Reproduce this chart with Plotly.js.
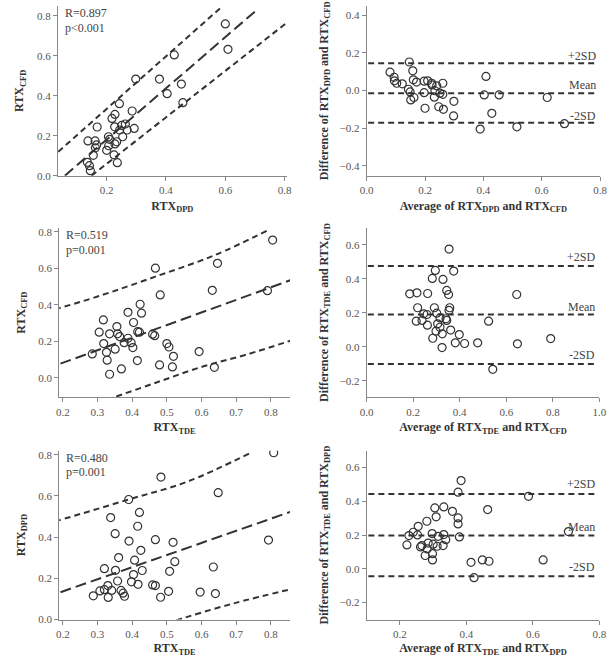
<!DOCTYPE html>
<html><head><meta charset="utf-8">
<script src="https://cdn.plot.ly/plotly-3.0.1.min.js"></script>
<style>body{margin:0;background:#fff}#c{width:615px;height:657px}</style>
</head><body><div id="c"></div>
<script>
// Panel 1: RTX_DPD vs RTX_CFD
const p1x=[0.600,0.609,0.428,0.298,0.378,0.452,0.404,0.457,0.243,0.286,0.228,0.218,0.168,0.227,0.251,0.263,0.269,0.293,0.244,0.206,0.254,0.210,0.234,0.228,0.137,0.161,0.166,0.162,0.207,0.200,0.225,0.155,0.135,0.236,0.142,0.145];
const p1y=[0.760,0.633,0.605,0.484,0.484,0.459,0.411,0.366,0.361,0.324,0.307,0.287,0.244,0.245,0.252,0.259,0.229,0.237,0.229,0.195,0.195,0.182,0.170,0.159,0.174,0.174,0.154,0.140,0.150,0.127,0.104,0.102,0.067,0.065,0.050,0.025];
const p1fitX=[0.059,0.706], p1fitY=[0.0,0.830];
const p1upX=[0.037,0.586], p1upY=[0.120,0.843];
const p1loX=[0.149,0.819], p1loY=[0.0,0.780];
// Panel 2: Bland-Altman DPD vs CFD
const p2x=[0.080,0.094,0.095,0.103,0.122,0.146,0.158,0.160,0.171,0.143,0.149,0.151,0.162,0.197,0.197,0.200,0.209,0.223,0.240,0.261,0.234,0.251,0.261,0.232,0.247,0.263,0.224,0.299,0.298,0.389,0.403,0.409,0.429,0.454,0.515,0.619,0.678];
const p2y=[0.098,0.071,0.052,0.039,0.036,0.152,0.105,0.057,0.045,0.007,-0.007,-0.050,-0.037,0.050,-0.011,-0.094,0.052,0.039,0.025,0.039,-0.001,-0.014,-0.020,-0.035,-0.086,-0.100,0.030,-0.057,-0.135,-0.205,-0.023,0.075,-0.121,-0.023,-0.193,-0.037,-0.176];
const p2lines=[0.146,-0.014,-0.171];
const p2labels=['+2SD','Mean','-2SD'];
const p2labelY=[0.185,0.029,-0.134];
// Panel 3: RTX_TDE vs RTX_CFD
const p3x=[0.805,0.646,0.467,0.631,0.790,0.481,0.423,0.427,0.388,0.317,0.404,0.356,0.305,0.335,0.358,0.364,0.416,0.421,0.459,0.465,0.388,0.397,0.377,0.318,0.402,0.351,0.326,0.285,0.500,0.506,0.519,0.593,0.328,0.415,0.479,0.516,0.369,0.335,0.637];
const p3y=[0.754,0.627,0.600,0.479,0.477,0.454,0.403,0.354,0.359,0.317,0.303,0.281,0.250,0.241,0.241,0.226,0.253,0.250,0.239,0.231,0.217,0.193,0.193,0.188,0.166,0.157,0.140,0.131,0.188,0.169,0.118,0.144,0.097,0.095,0.071,0.060,0.049,0.020,0.058];
const p3fitX=[0.150,0.870], p3fitY=[0.048,0.544];
const p3upX=[0.150,0.188,0.300,0.467,0.639,0.788], p3upY=[0.362,0.381,0.445,0.554,0.672,0.805];
const p3loX=[0.300,0.347,0.470,0.600,0.730,0.870], p3loY=[-0.135,-0.106,-0.025,0.060,0.128,0.212];
// Panel 4: Bland-Altman TDE vs CFD
const p4x=[0.354,0.295,0.374,0.282,0.328,0.344,0.352,0.185,0.216,0.262,0.645,0.219,0.291,0.357,0.354,0.245,0.259,0.301,0.315,0.341,0.344,0.213,0.238,0.261,0.305,0.315,0.298,0.361,0.325,0.398,0.284,0.381,0.421,0.477,0.324,0.524,0.648,0.791,0.542];
const p4y=[0.576,0.450,0.446,0.403,0.397,0.332,0.308,0.312,0.318,0.314,0.308,0.230,0.230,0.230,0.214,0.194,0.190,0.198,0.170,0.165,0.155,0.151,0.155,0.127,0.135,0.115,0.092,0.098,0.076,0.072,0.050,0.023,0.019,0.023,-0.005,0.151,0.017,0.048,-0.133];
const p4lines=[0.476,0.190,-0.101];
const p4labelY=[0.529,0.237,-0.050];
// Panel 5: RTX_TDE vs RTX_DPD
const p5x=[0.808,0.483,0.648,0.390,0.421,0.338,0.416,0.351,0.391,0.467,0.793,0.518,0.425,0.361,0.407,0.523,0.634,0.320,0.352,0.429,0.508,0.404,0.358,0.398,0.417,0.459,0.467,0.330,0.320,0.307,0.341,0.368,0.374,0.378,0.288,0.331,0.482,0.505,0.596,0.640];
const p5y=[0.810,0.692,0.616,0.583,0.520,0.495,0.453,0.417,0.381,0.388,0.386,0.375,0.336,0.301,0.288,0.281,0.255,0.247,0.239,0.238,0.234,0.218,0.187,0.183,0.171,0.168,0.165,0.165,0.145,0.139,0.141,0.141,0.128,0.113,0.115,0.107,0.108,0.137,0.133,0.126];
const p5fitX=[0.150,0.870], p5fitY=[0.107,0.531];
const p5upX=[0.150,0.188,0.390,0.560,0.745], p5upY=[0.466,0.482,0.583,0.670,0.813];
const p5loX=[0.500,0.529,0.692,0.870], p5loY=[-0.020,-0.003,0.078,0.152];
// Panel 6: Bland-Altman TDE vs DPD
const p6x=[0.384,0.375,0.587,0.332,0.305,0.464,0.358,0.309,0.375,0.375,0.281,0.255,0.227,0.240,0.253,0.297,0.315,0.332,0.379,0.338,0.221,0.262,0.266,0.285,0.300,0.312,0.330,0.282,0.276,0.298,0.298,0.707,0.631,0.414,0.448,0.468,0.423];
const p6y=[0.523,0.454,0.430,0.367,0.361,0.351,0.341,0.308,0.302,0.266,0.282,0.252,0.197,0.217,0.201,0.209,0.193,0.203,0.189,0.173,0.142,0.130,0.138,0.153,0.146,0.134,0.138,0.118,0.079,0.090,0.053,0.221,0.053,0.039,0.053,0.045,-0.052];
const p6lines=[0.444,0.197,-0.044];
const p6labelY=[0.503,0.246,0.009];

const FONT='"Liberation Serif", "DejaVu Serif", serif';
const INK='#333';
function pts(x,y,n){return {x:x,y:y,xaxis:'x'+n,yaxis:'y'+n,type:'scatter',mode:'markers',
  marker:{symbol:'circle-open',size:8,color:INK,line:{width:1.2,color:INK}},showlegend:false,hoverinfo:'skip'};}
function ln(x,y,n,dash,shape){return {x:x,y:y,xaxis:'x'+n,yaxis:'y'+n,type:'scatter',mode:'lines',
  line:{color:INK,width:2,dash:dash,shape:shape||'linear'},showlegend:false,hoverinfo:'skip'};}
function hl(v,n,xr){return ln([xr[0],xr[1]],[v,v],n,'6px,4px');}

const xr2=[0.005,0.785], xr4=[0.005,0.985], xr6=[0.105,0.785];
const data=[
  ln(p1upX,p1upY,'','6px,4px'), ln(p1fitX,p1fitY,'','11px,5px'), ln(p1loX,p1loY,'','6px,4px'), pts(p1x,p1y,''),
  hl(p2lines[0],2,xr2),hl(p2lines[1],2,xr2),hl(p2lines[2],2,xr2), pts(p2x,p2y,2),
  ln(p3upX,p3upY,3,'6px,4px','spline'), ln(p3fitX,p3fitY,3,'11px,5px'), ln(p3loX,p3loY,3,'6px,4px','spline'), pts(p3x,p3y,3),
  hl(p4lines[0],4,xr4),hl(p4lines[1],4,xr4),hl(p4lines[2],4,xr4), pts(p4x,p4y,4),
  ln(p5upX,p5upY,5,'6px,4px','spline'), ln(p5fitX,p5fitY,5,'11px,5px'), ln(p5loX,p5loY,5,'6px,4px','spline'), pts(p5x,p5y,5),
  hl(p6lines[0],6,xr6),hl(p6lines[1],6,xr6),hl(p6lines[2],6,xr6), pts(p6x,p6y,6)
];

const W=615,H=657;
function dx(a,b){return [a/W,b/W];}
function dy(top,bot){return [1-bot/H,1-top/H];}
const tf={family:FONT,size:11,color:'#555'};
const ttf={family:FONT,size:12,color:'#333',weight:'bold'};
function ax(dom,range,dtick,title,anchor,so){return {domain:dom,range:range,dtick:dtick,tickformat:'.1f',anchor:anchor,
  showline:true,linecolor:'#888',linewidth:1,ticks:'outside',ticklen:4,tickcolor:'#888',showgrid:false,zeroline:false,
  tickfont:tf,title:{text:title,font:ttf,standoff:so},automargin:false,fixedrange:true};}
const L1=dx(58,286.7), R1=dx(366.7,600), L2=dx(59.3,290), R2=dx(366.7,599.3);
const Y1=dy(6,175.7), Y2=dy(228,397.3), Y3=dy(450.7,619.5);
const layout={width:W,height:H,margin:{l:0,r:0,t:0,b:0},paper_bgcolor:'#fff',plot_bgcolor:'#fff',
  font:{family:FONT},
  xaxis:ax(L1,[0.036,0.807],0.2,'RTX<sub>DPD</sub>','y',6),
  yaxis:ax(Y1,[0,0.85],0.2,'RTX<sub>CFD</sub>','x',10),
  xaxis2:ax(R1,[0,0.8],0.2,'Average of RTX<sub>DPD</sub> and RTX<sub>CFD</sub>','y2',6),
  yaxis2:ax(Y1,[-0.453,0.45],0.2,'Difference of RTX<sub>DPD</sub> and RTX<sub>CFD</sub>','x2',8),
  xaxis3:ax(L2,[0.19,0.855],0.1,'RTX<sub>TDE</sub>','y3',6),
  yaxis3:ax(Y2,[-0.106,0.82],0.2,'RTX<sub>CFD</sub>','x3',10),
  xaxis4:ax(R2,[0,1.0],0.2,'Average of RTX<sub>TDE</sub> and RTX<sub>CFD</sub>','y4',6),
  yaxis4:ax(Y2,[-0.298,0.70],0.2,'Difference of RTX<sub>TDE</sub> and RTX<sub>CFD</sub>','x4',8),
  xaxis5:ax(L2,[0.19,0.855],0.1,'RTX<sub>TDE</sub>','y5',6),
  yaxis5:ax(Y3,[0,0.82],0.2,'RTX<sub>DPD</sub>','x5',10),
  xaxis6:ax(R2,[0.1,0.8],0.2,'Average of RTX<sub>TDE</sub> and RTX<sub>DPD</sub>','y6',6),
  yaxis6:ax(Y3,[-0.30,0.70],0.2,'Difference of RTX<sub>TDE</sub> and RTX<sub>DPD</sub>','x6',8),
  annotations:[]
};
const af={family:FONT,size:12,color:'#444'};
function stat(n,r,p){
  const xs=n===''?'x domain':'x'+n+' domain', ys=n===''?'y domain':'y'+n+' domain';
  layout.annotations.push({xref:xs,yref:ys,x:0.02,y:1.01,xanchor:'left',yanchor:'top',text:r,showarrow:false,font:af});
  layout.annotations.push({xref:xs,yref:ys,x:0.02,y:0.925,xanchor:'left',yanchor:'top',text:p,showarrow:false,font:af});
}
stat('','R=0.897','p&lt;0.001');
stat(3,'R=0.519','p=0.001');
stat(5,'R=0.480','p=0.001');
function sd(n,ys){ys.forEach((v,i)=>layout.annotations.push({xref:'x'+n+' domain',yref:'y'+n,x:0.99,y:v,xanchor:'right',yanchor:'middle',
  text:p2labels[i],showarrow:false,font:af}));}
sd(2,p2labelY); sd(4,p4labelY); sd(6,p6labelY);
Plotly.newPlot('c',data,layout,{staticPlot:true});
</script></body></html>
